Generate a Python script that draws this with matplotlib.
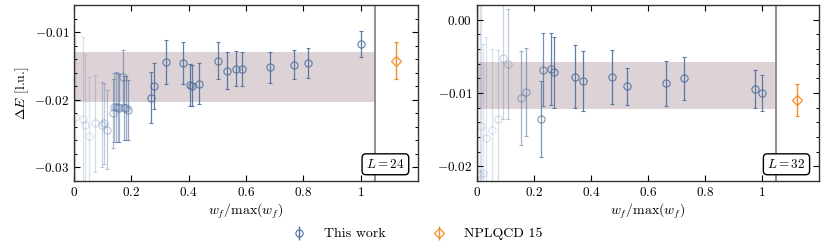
import numpy as np
import matplotlib
matplotlib.use("Agg")
import matplotlib.pyplot as plt
from matplotlib.ticker import MultipleLocator, FixedLocator, FuncFormatter

plt.rcParams['font.family'] = 'serif'
plt.rcParams['font.serif'] = ['cmr10', 'DejaVu Serif']
plt.rcParams['mathtext.fontset'] = 'cm'
plt.rcParams['font.size'] = 9.5
plt.rcParams['axes.unicode_minus'] = True

# L = 24 panel
w24 = [0.002, 0.030, 0.038, 0.053, 0.074, 0.096, 0.105, 0.115, 0.137, 0.140,
       0.146, 0.153, 0.158, 0.170, 0.174, 0.180, 0.189, 0.270, 0.278, 0.320,
       0.380, 0.403, 0.413, 0.437, 0.502, 0.535, 0.565, 0.587, 0.684, 0.768,
       0.815, 1.000]
e24 = [-0.0225, -0.0228, -0.0237, -0.0253, -0.0235, -0.0237, -0.0235, -0.0244,
       -0.0220, -0.0211, -0.0211, -0.0211, -0.0212, -0.0166, -0.0212, -0.0212,
       -0.0215, -0.0197, -0.0179, -0.0144, -0.0146, -0.0178, -0.0179, -0.0176,
       -0.0142, -0.0157, -0.0154, -0.0155, -0.0152, -0.0148, -0.0146, -0.0118]
err24 = [0.012, 0.012, 0.0105, 0.0087, 0.0072, 0.0063, 0.0060, 0.0058, 0.0051,
         0.0051, 0.0052, 0.0051, 0.0050, 0.0040, 0.0047, 0.0047, 0.0044, 0.0038,
         0.0034, 0.0033, 0.0031, 0.0031, 0.0030, 0.0030, 0.0027, 0.0027, 0.0026,
         0.0025, 0.0023, 0.0022, 0.0022, 0.0019]
npl24 = (1.124, -0.0142, 0.0028)
band24 = (-0.0203, -0.0130)

# L = 32 panel
w32 = [0.003, 0.009, 0.013, 0.021, 0.033, 0.051, 0.072, 0.092, 0.110, 0.154,
       0.171, 0.224, 0.232, 0.258, 0.269, 0.345, 0.373, 0.472, 0.527, 0.662,
       0.728, 0.976, 1.001]
e32 = [-0.0209, -0.0212, -0.0145, -0.0209, -0.0161, -0.0150, -0.0135, -0.0052,
       -0.0061, -0.0107, -0.0098, -0.0135, -0.0068, -0.0067, -0.0072, -0.0078,
       -0.0084, -0.0078, -0.0091, -0.0087, -0.0080, -0.0094, -0.0100]
err32 = [0.030, 0.025, 0.020, 0.0176, 0.0138, 0.0110, 0.0093, 0.0083, 0.0075,
         0.0064, 0.0060, 0.0052, 0.0050, 0.0049, 0.0048, 0.0043, 0.0041, 0.0037,
         0.0025, 0.0031, 0.0029, 0.0026, 0.0025]
npl32 = (1.124, -0.0110, 0.0022)
band32 = (-0.0122, -0.0058)

xticks = [0, 0.2, 0.4, 0.6, 0.8, 1.0]

blue = '#4e6fa0'
orange = '#f28e2b'
band_col = '#ddd2d5'

fig = plt.figure(figsize=(8.3, 2.49), dpi=100)
ax1 = fig.add_axes([0.0892, 0.2731, 0.4145, 0.7068])
ax2 = fig.add_axes([0.5747, 0.2731, 0.4120, 0.7068])

def draw(ax, w, e, err, npl, band, ylim, label):
    ax.fill_between([0, 1.05], band[0], band[1], color=band_col, lw=0, zorder=0)
    ax.axvline(1.05, color='#8f8f8f', lw=1.4, zorder=1)
    for x, y, s in zip(w, e, err):
        a = float(np.clip(3.3 * x, 0.2, 0.9))
        ax.errorbar(x, y, yerr=s, fmt='o', color=blue, mfc='none', ms=5.2,
                    mew=0.8, elinewidth=0.9, capsize=1.6, capthick=0.8,
                    alpha=a, zorder=2)
    ax.errorbar(npl[0], npl[1], yerr=npl[2], fmt='D', color=orange, mfc='none',
                ms=5, mew=0.9, elinewidth=1.0, capsize=1.6, capthick=0.8, zorder=2)
    ax.set_xlim(0, 1.2)
    ax.set_ylim(*ylim)
    ax.xaxis.set_major_locator(FixedLocator(xticks))
    ax.yaxis.set_major_locator(MultipleLocator(0.01))
    ax.yaxis.set_minor_locator(MultipleLocator(0.002))
    ax.xaxis.set_major_formatter(FuncFormatter(lambda v, p: '$%g$' % round(v, 3)))
    ax.yaxis.set_major_formatter(FuncFormatter(lambda v, p: '$%.2f$' % (0.0 if abs(v) < 1e-9 else v)))
    ax.tick_params(which='both', direction='in', top=True, right=True, labelsize=9.5)
    ax.tick_params(which='major', length=4, width=0.8)
    ax.tick_params(which='minor', length=2.2, width=0.7)
    for sp in ax.spines.values():
        sp.set_linewidth(1.0)
        sp.set_color('#333333')
    ax.set_xlabel(r'$w_f/\max(w_f)$', fontsize=10, labelpad=2)
    ax.text(0.905, 0.095, label, transform=ax.transAxes, ha='center', va='center',
            fontsize=9.5, zorder=5,
            bbox=dict(boxstyle='round,pad=0.3', fc='white', ec='black', lw=1.0))

draw(ax1, w24, e24, err24, npl24, band24, (-0.032, -0.006), r'$L=24$')
draw(ax2, w32, e32, err32, npl32, band32, (-0.022, 0.002), r'$L=32$')
ax1.set_ylabel(r'$\Delta E$ [l.u.]', fontsize=10, labelpad=2)

h1 = ax1.errorbar([], [], yerr=[], fmt='o', color=blue, mfc='none', ms=5.2,
                  mew=0.8, elinewidth=1.0, capsize=1.6)
h2 = ax1.errorbar([], [], yerr=[], fmt='D', color=orange, mfc='none', ms=5,
                  mew=0.9, elinewidth=1.0, capsize=1.6)
fig.legend([h1, h2], ['This work', 'NPLQCD 15'], loc='center',
           bbox_to_anchor=(0.5, 0.06), ncol=2, frameon=False, fontsize=10,
           columnspacing=3.0, handlelength=1.6, handletextpad=1.0)

fig.savefig('out.png', dpi=100)
